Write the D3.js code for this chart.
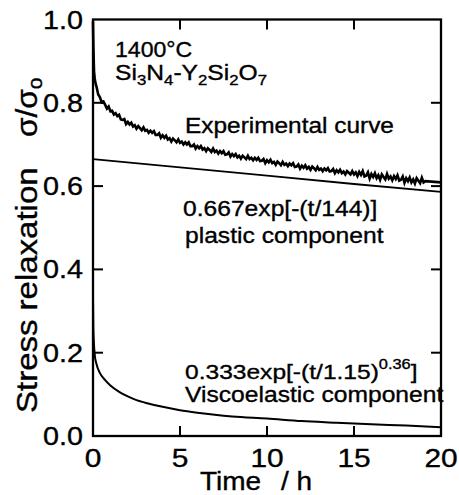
<!DOCTYPE html>
<html lang="en">
<head>
<meta charset="utf-8">
<title>Stress relaxation</title>
<style>
  body { margin: 0; background: #fff; }
  svg text { font-family: "Liberation Sans", Arial, Helvetica, sans-serif; fill: #000; stroke: #000; stroke-width: 0.35px; }
</style>
</head>
<body>
<svg id="chart" width="459" height="495"></svg>
<script src="https://cdnjs.cloudflare.com/ajax/libs/d3/7.8.5/d3.min.js"></script>
<script>
// axis ticks
var xTicks = [0, 5, 10, 15, 20];
var yTicks = [0, 0.2, 0.4, 0.6, 0.8, 1.0];
var yTickLabels = ["0.0", "0.2", "0.4", "0.6", "0.8", "1.0"];

// experimental curve [time h, sigma/sigma0] (noisy trace)
var experimental = [
  [0, 0.995], [0.02, 0.94], [0.04, 0.905], [0.06, 0.875], [0.1, 0.858], [0.15, 0.846],
  [0.2, 0.839], [0.3, 0.820], [0.4, 0.813], [0.5, 0.801], [0.6, 0.803], [0.7, 0.795], [0.8, 0.786], [0.9, 0.791], [1.0, 0.780], [1.1, 0.781],
  [1.2, 0.772], [1.3, 0.775], [1.4, 0.768], [1.5, 0.771], [1.6, 0.760], [1.7, 0.759], [1.8, 0.761], [1.9, 0.749], [2.0, 0.754], [2.1, 0.748],
  [2.2, 0.752], [2.3, 0.743], [2.4, 0.746], [2.5, 0.738], [2.6, 0.744], [2.7, 0.739], [2.8, 0.734], [2.9, 0.741], [3.0, 0.733], [3.1, 0.735],
  [3.2, 0.728], [3.3, 0.733], [3.4, 0.728], [3.5, 0.732], [3.6, 0.723], [3.7, 0.723], [3.8, 0.727], [3.9, 0.716], [4.0, 0.722], [4.1, 0.716],
  [4.2, 0.721], [4.3, 0.712], [4.4, 0.715], [4.5, 0.707], [4.6, 0.714], [4.7, 0.710], [4.8, 0.705], [4.9, 0.712], [5.0, 0.704], [5.1, 0.707],
  [5.2, 0.700], [5.3, 0.705], [5.4, 0.700], [5.5, 0.705], [5.6, 0.696], [5.7, 0.696], [5.8, 0.700], [5.9, 0.690], [6.0, 0.696], [6.1, 0.691],
  [6.2, 0.696], [6.3, 0.688], [6.4, 0.691], [6.5, 0.684], [6.6, 0.691], [6.7, 0.687], [6.8, 0.682], [6.9, 0.690], [7.0, 0.682], [7.1, 0.685],
  [7.2, 0.678], [7.3, 0.684], [7.4, 0.679], [7.5, 0.684], [7.6, 0.675], [7.7, 0.676], [7.8, 0.681], [7.9, 0.671], [8.0, 0.677], [8.1, 0.672],
  [8.2, 0.677], [8.3, 0.669], [8.4, 0.673], [8.5, 0.666], [8.6, 0.673], [8.7, 0.669], [8.8, 0.665], [8.9, 0.673], [9.0, 0.665], [9.1, 0.668],
  [9.2, 0.662], [9.3, 0.668], [9.4, 0.663], [9.5, 0.668], [9.6, 0.660], [9.7, 0.661], [9.8, 0.665], [9.9, 0.655], [10.0, 0.662], [10.1, 0.657],
  [10.2, 0.663], [10.3, 0.655], [10.4, 0.658], [10.5, 0.651], [10.6, 0.659], [10.7, 0.655], [10.8, 0.650], [10.9, 0.658], [11.0, 0.651], [11.1, 0.654],
  [11.2, 0.648], [11.3, 0.654], [11.4, 0.650], [11.5, 0.655], [11.6, 0.646], [11.7, 0.647], [11.8, 0.652], [11.9, 0.642], [12.0, 0.649], [12.1, 0.644],
  [12.2, 0.650], [12.3, 0.642], [12.4, 0.646], [12.5, 0.639], [12.6, 0.647], [12.7, 0.643], [12.8, 0.638], [12.9, 0.646], [13.0, 0.639], [13.1, 0.642],
  [13.2, 0.636], [13.3, 0.642], [13.4, 0.638], [13.5, 0.643], [13.6, 0.635], [13.7, 0.636], [13.8, 0.641], [13.9, 0.631], [14.0, 0.638], [14.1, 0.633],
  [14.2, 0.639], [14.3, 0.631], [14.4, 0.635], [14.5, 0.628], [14.6, 0.636], [14.7, 0.632], [14.8, 0.628], [14.9, 0.636], [15.0, 0.628], [15.1, 0.633],
  [15.2, 0.624], [15.3, 0.634], [15.4, 0.627], [15.5, 0.636], [15.6, 0.623], [15.7, 0.625], [15.8, 0.633], [15.9, 0.618], [16.0, 0.629], [16.1, 0.622],
  [16.2, 0.631], [16.3, 0.619], [16.4, 0.626], [16.5, 0.615], [16.6, 0.628], [16.7, 0.622], [16.8, 0.616], [16.9, 0.629], [17.0, 0.618], [17.1, 0.623],
  [17.2, 0.614], [17.3, 0.624], [17.4, 0.617], [17.5, 0.626], [17.6, 0.613], [17.7, 0.615], [17.8, 0.623], [17.9, 0.608], [18.0, 0.619], [18.1, 0.612],
  [18.2, 0.621], [18.3, 0.609], [18.4, 0.616], [18.5, 0.606], [18.6, 0.619], [18.7, 0.613], [18.8, 0.607], [18.9, 0.620], [19.0, 0.609],
  [19.1, 0.612], [20, 0.609]
];

// plastic component, nearly straight
var plastic = [[0, 0.665], [5, 0.645], [10, 0.625], [15, 0.605], [20, 0.586]];

// viscoelastic component
var viscoelastic = [
  [0, 0.333], [0.02, 0.26], [0.05, 0.225], [0.1, 0.195], [0.2, 0.173], [0.4, 0.151], [0.7, 0.134],
  [1.0, 0.121], [1.5, 0.106], [2, 0.095], [2.5, 0.086], [3, 0.080], [4, 0.070], [5, 0.062],
  [6, 0.056], [7, 0.051], [8, 0.047], [10, 0.042], [12, 0.036], [14, 0.032], [16, 0.028], [18, 0.025], [20, 0.021]
];

var svg = d3.select("#chart");

// plot frame (window.top is reserved, so use other names)
var plotL = 93, plotR = 441, plotT = 19.5, plotB = 436;

var x = d3.scaleLinear().domain([0, 20]).range([plotL, plotR]);
var y = d3.scaleLinear().domain([0, 1]).range([plotB, plotT]);

var sx = 1.15; // the lettering in the figure is wide

function addText(px, py, str, size, anchor, stretch) {
  return svg.append("text")
    .attr("transform", "translate(" + px + "," + py + ") scale(" + (stretch || sx) + ",1)")
    .attr("text-anchor", anchor || "start")
    .style("font-size", size + "px")
    .text(str);
}

// curves
var line = d3.line().x(function (d) { return x(d[0]); }).y(function (d) { return y(d[1]); });
var smooth = d3.line().x(function (d) { return x(d[0]); }).y(function (d) { return y(d[1]); }).curve(d3.curveMonotoneX);

svg.append("path").datum(plastic).attr("d", line)
  .attr("fill", "none").attr("stroke", "#000").attr("stroke-width", 1.8);

svg.append("path").datum(viscoelastic).attr("d", smooth)
  .attr("fill", "none").attr("stroke", "#000").attr("stroke-width", 2);

svg.append("path").datum(experimental).attr("d", line)
  .attr("fill", "none").attr("stroke", "#000").attr("stroke-width", 2.6)
  .attr("stroke-linejoin", "miter");

// ticks, inward on all four sides
var tl = 10;
var g = svg.append("g").attr("stroke", "#000").attr("stroke-width", 2);
xTicks.slice(1, -1).forEach(function (t) {
  g.append("line").attr("x1", x(t)).attr("x2", x(t)).attr("y1", plotB).attr("y2", plotB - tl);
  g.append("line").attr("x1", x(t)).attr("x2", x(t)).attr("y1", plotT).attr("y2", plotT + tl);
});
yTicks.slice(1, -1).forEach(function (v) {
  g.append("line").attr("x1", plotL).attr("x2", plotL + tl).attr("y1", y(v)).attr("y2", y(v));
  g.append("line").attr("x1", plotR).attr("x2", plotR - tl).attr("y1", y(v)).attr("y2", y(v));
});

// frame
svg.append("rect")
  .attr("x", plotL).attr("y", plotT)
  .attr("width", plotR - plotL).attr("height", plotB - plotT)
  .attr("fill", "none").attr("stroke", "#000").attr("stroke-width", 2.3);

// tick labels
xTicks.forEach(function (t) {
  addText(x(t), 467, String(t), 26, "middle");
});
yTicks.forEach(function (v, i) {
  addText(83, y(v) + 9, yTickLabels[i], 25, "end");
});

// axis titles
addText(200, 490, "Time", 25, "start", 1.12);
addText(281, 490, "/ h", 25, "start", 1.12);

svg.append("text")
  .attr("transform", "translate(37,413) rotate(-90) scale(1.1,1)")
  .style("font-size", "30px")
  .text("Stress relaxation");

var sig = svg.append("text")
  .attr("transform", "translate(37,137) rotate(-90) scale(1.05,1)")
  .style("font-size", "30px");
sig.append("tspan").text("σ/σ");
sig.append("tspan").attr("dy", 5).style("font-size", "20px").text("o");

// annotations
addText(115, 57, "1400°C", 22, "start", 1.05);

var formula = svg.append("text")
  .attr("transform", "translate(115,80) scale(1.12,1)")
  .style("font-size", "22px");
[["Si", 0], ["3", 1], ["N", 0], ["4", 1], ["-Y", 0], ["2", 1], ["Si", 0], ["2", 1], ["O", 0], ["7", 1]].forEach(function (p, i, arr) {
  var prevSub = i > 0 && arr[i - 1][1];
  var ts = formula.append("tspan").text(p[0]);
  if (p[1]) ts.attr("dy", 5).style("font-size", "15px");
  else if (prevSub) ts.attr("dy", -5);
});

addText(185, 133, "Experimental curve", 22, "start", 1.11);
addText(183, 216, "0.667exp[-(t/144)]", 22, "start", 1.12);
addText(185, 243, "plastic component", 22, "start", 1.12);

var visc = svg.append("text")
  .attr("transform", "translate(185,379) scale(1.17,1)")
  .style("font-size", "21px");
visc.append("tspan").text("0.333exp[-(t/1.15)");
visc.append("tspan").attr("dy", -10).style("font-size", "14px").text("0.36");
visc.append("tspan").attr("dy", 10).text("]");

addText(185, 402, "Viscoelastic component", 22, "start", 1.12);
</script>
</body>
</html>
